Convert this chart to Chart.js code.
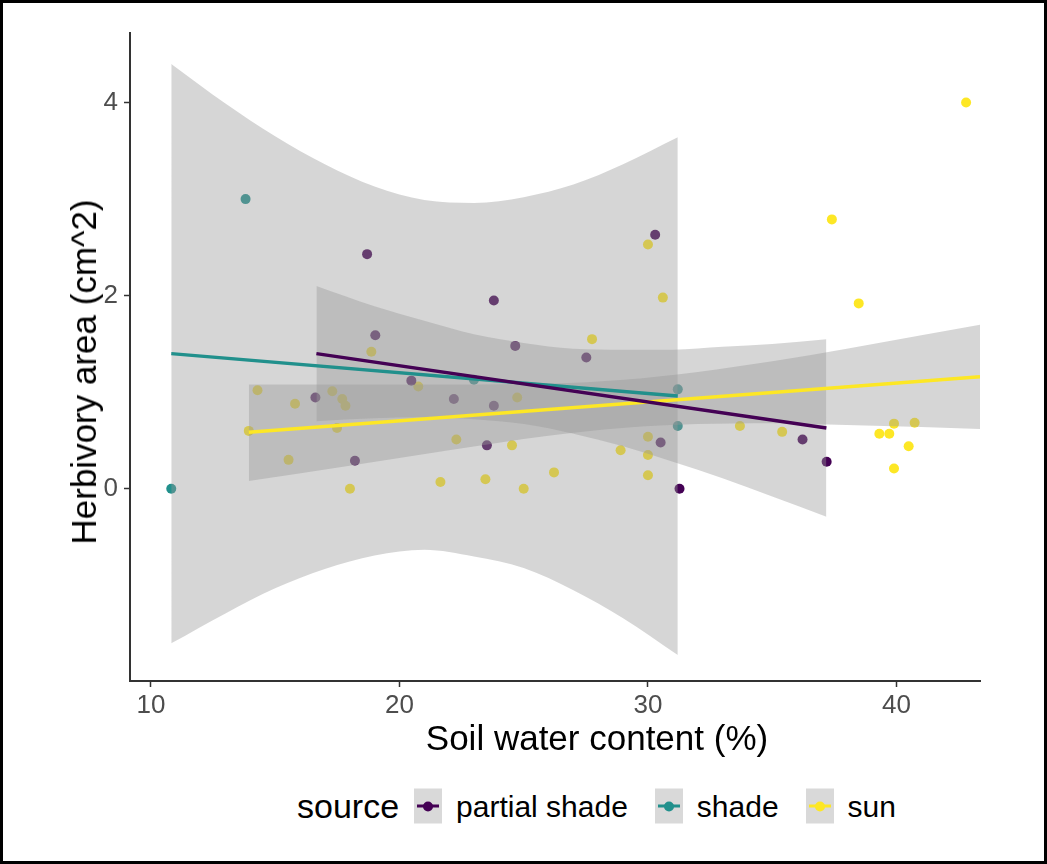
<!DOCTYPE html>
<html>
<head>
<meta charset="utf-8">
<script src="https://cdn.jsdelivr.net/npm/chart.js@4.4.1/dist/chart.umd.min.js"></script>
<style>
  html, body { margin: 0; padding: 0; background: #fff; }
  #page {
    position: relative; width: 1047px; height: 864px;
    border: 3px solid #000; box-sizing: border-box;
    font-family: "Liberation Sans", Arial, sans-serif;
  }
  #zone { position: absolute; left: 0; top: 0; width: 1041px; height: 770px; }
  .titre { position: absolute; color: #000; font-size: 35px; white-space: nowrap; }
  #titreX { left: 594px; top: 735px; transform: translate(-50%, -50%); }
  #titreY { left: 81px; top: 369px; transform: translate(-50%, -50%) rotate(-90deg); }
  #legende {
    position: absolute; left: 294px; top: 803px; transform: translateY(-50%);
    display: flex; align-items: center; color: #000;
  }
  #legende .nom { font-size: 34px; margin-right: 15px; }
  #legende .cle { position: relative; width: 28px; height: 35px; background: #d9d9d9; }
  #legende .cle .trait { position: absolute; left: 3px; right: 3px; top: 16px; height: 3px; }
  #legende .cle .rond { position: absolute; left: 9px; top: 13px; width: 10px; height: 10px; border-radius: 50%; }
  #legende .txt { font-size: 30px; margin-left: 14px; margin-right: 27px; }
</style>
</head>
<body>
<div id="page">
  <div id="zone"><canvas id="graphique"></canvas></div>
  <div class="titre" id="titreX">Soil water content (%)</div>
  <div class="titre" id="titreY">Herbivory area (cm^2)</div>
  <div id="legende"></div>
</div>
<script>
// categories et couleurs
const categories = ["partial shade", "shade", "sun"];
const couleurs = ["#440154", "#21908C", "#FDE725"];
const titreLegende = "source";

// points
const partialX = [18.70, 23.80, 19.03, 24.66, 30.29, 27.52, 20.48, 16.62, 22.19, 23.80, 23.52, 18.21, 30.51, 36.22, 37.19, 31.27];
const partialY = [2.43, 1.95, 1.59, 1.48, 2.63, 1.36, 1.12, 0.945, 0.93, 0.86, 0.45, 0.29, 0.48, 0.51, 0.28, 0.0];

const shadeX = [13.81, 10.82, 31.20, 31.20, 23.00];
const shadeY = [3.0, 0.0, 1.03, 0.65, 1.13];

const sunX = [18.87, 42.80, 37.40, 30.00, 30.60, 38.48, 27.75, 20.76, 14.29, 15.80, 17.30, 17.70,
              17.83, 24.74, 13.94, 17.49, 22.29, 24.53, 15.54, 26.22, 21.65, 23.46, 18.01, 25.00,
              33.70, 35.40, 30.00, 28.90, 30.00, 30.00, 39.90, 40.73, 39.31, 39.71, 40.49, 39.90];
const sunY = [1.42, 4.0, 2.79, 2.53, 1.98, 1.92, 1.55, 1.06, 1.02, 0.88, 1.01, 0.93,
              0.86, 0.945, 0.60, 0.63, 0.51, 0.45, 0.30, 0.17, 0.07, 0.10, 0.0, 0.0,
              0.65, 0.59, 0.54, 0.40, 0.35, 0.14, 0.675, 0.685, 0.57, 0.57, 0.44, 0.21];

// droites de regression (debut, fin)
const partialLigneX = [16.66, 37.18];
const partialLigneY = [1.40, 0.63];
const shadeLigneX = [10.82, 31.20];
const shadeLigneY = [1.40, 0.96];
const sunLigneX = [13.94, 43.36];
const sunLigneY = [0.585, 1.16];

// bandes de confiance
const partialBandeX = [16.66, 19, 21, 23, 25, 27, 29, 31, 33, 35, 37.18];
const partialHaut = [2.10, 1.89, 1.74, 1.60, 1.51, 1.45, 1.44, 1.44, 1.47, 1.50, 1.55];
const partialBas = [0.70, 0.73, 0.74, 0.72, 0.67, 0.57, 0.44, 0.28, 0.11, -0.08, -0.29];

const shadeBandeX = [10.82, 13, 15, 17, 19, 21, 23, 25, 27, 29, 31.20];
const shadeHaut = [4.40, 3.99, 3.65, 3.36, 3.13, 2.99, 2.96, 3.02, 3.15, 3.36, 3.64];
const shadeBas = [-1.60, -1.29, -1.03, -0.83, -0.69, -0.63, -0.70, -0.82, -1.05, -1.34, -1.72];

const sunBandeX = [13.94, 18, 22, 26, 29, 32, 35, 38, 41, 43.36];
const sunHaut = [1.08, 1.08, 1.08, 1.09, 1.13, 1.21, 1.32, 1.45, 1.59, 1.70];
const sunBas = [0.08, 0.24, 0.40, 0.55, 0.63, 0.67, 0.68, 0.66, 0.64, 0.62];

// axes
const xMin = 9.16, xMax = 43.36;
const yMin = -1.99, yMax = 4.72;
const xTicks = [10, 20, 30, 40];
const yTicks = [0, 2, 4];

const police = "'Liberation Sans', Arial, sans-serif";
const gris = "rgba(153,153,153,0.4)";

function paires(xs, ys) {
    return xs.map((x, i) => ({ x: x, y: ys[i] }));
}

const points = [[partialX, partialY], [shadeX, shadeY], [sunX, sunY]];
const lignes = [[partialLigneX, partialLigneY], [shadeLigneX, shadeLigneY], [sunLigneX, sunLigneY]];
const bandes = [[partialBandeX, partialHaut, partialBas], [shadeBandeX, shadeHaut, shadeBas], [sunBandeX, sunHaut, sunBas]];

const datasets = [];

// lignes devant
categories.forEach((nom, k) => {
    datasets.push({
        label: nom,
        data: paires(lignes[k][0], lignes[k][1]),
        borderColor: couleurs[k],
        borderWidth: 3.5,
        pointRadius: 0,
        fill: false,
        order: 0
    });
});

// bandes grises par dessus les points
categories.forEach((nom, k) => {
    const [bx, haut, bas] = bandes[k];
    datasets.push({
        label: nom + " haut",
        data: paires(bx, haut),
        borderWidth: 0,
        pointRadius: 0,
        fill: "+1",
        backgroundColor: gris,
        cubicInterpolationMode: "monotone",
        order: 1
    });
    datasets.push({
        label: nom + " bas",
        data: paires(bx, bas),
        borderWidth: 0,
        pointRadius: 0,
        fill: false,
        cubicInterpolationMode: "monotone",
        order: 1
    });
});

// points derriere
categories.forEach((nom, k) => {
    datasets.push({
        label: nom + " points",
        data: paires(points[k][0], points[k][1]),
        showLine: false,
        pointRadius: 5,
        pointBorderWidth: 0,
        pointBackgroundColor: couleurs[k],
        order: 2
    });
});

new Chart(document.getElementById("graphique"), {
    type: "line",
    data: { datasets: datasets },
    options: {
        animation: false,
        responsive: true,
        maintainAspectRatio: false,
        layout: { padding: { left: 0, top: 30, right: 64, bottom: 0 } },
        plugins: { legend: { display: false }, tooltip: { enabled: false } },
        scales: {
            x: {
                type: "linear",
                min: xMin,
                max: xMax,
                afterBuildTicks: s => { s.ticks = xTicks.map(v => ({ value: v })); },
                afterFit: s => { s.height = 92; },
                grid: { drawOnChartArea: false, drawTicks: true, tickLength: 6, tickColor: "#333", tickWidth: 1.5 },
                border: { display: true, color: "#333", width: 2 },
                ticks: { color: "#4d4d4d", font: { family: police, size: 26 }, padding: 3, maxRotation: 0 }
            },
            y: {
                type: "linear",
                min: yMin,
                max: yMax,
                afterBuildTicks: s => { s.ticks = yTicks.map(v => ({ value: v })); },
                afterFit: s => { s.width = 127; },
                grid: { drawOnChartArea: false, drawTicks: true, tickLength: 6, tickColor: "#333", tickWidth: 1.5 },
                border: { display: true, color: "#333", width: 2 },
                ticks: { color: "#4d4d4d", font: { family: police, size: 26 }, padding: 6 }
            }
        }
    }
});

// legende
const legende = document.getElementById("legende");
legende.innerHTML = `<span class="nom">${titreLegende}</span>`;
categories.forEach((nom, k) => {
    legende.innerHTML += `
        <div class="cle"><div class="trait" style="background:${couleurs[k]}"></div><div class="rond" style="background:${couleurs[k]}"></div></div>
        <span class="txt">${nom}</span>`;
});
</script>
</body>
</html>
